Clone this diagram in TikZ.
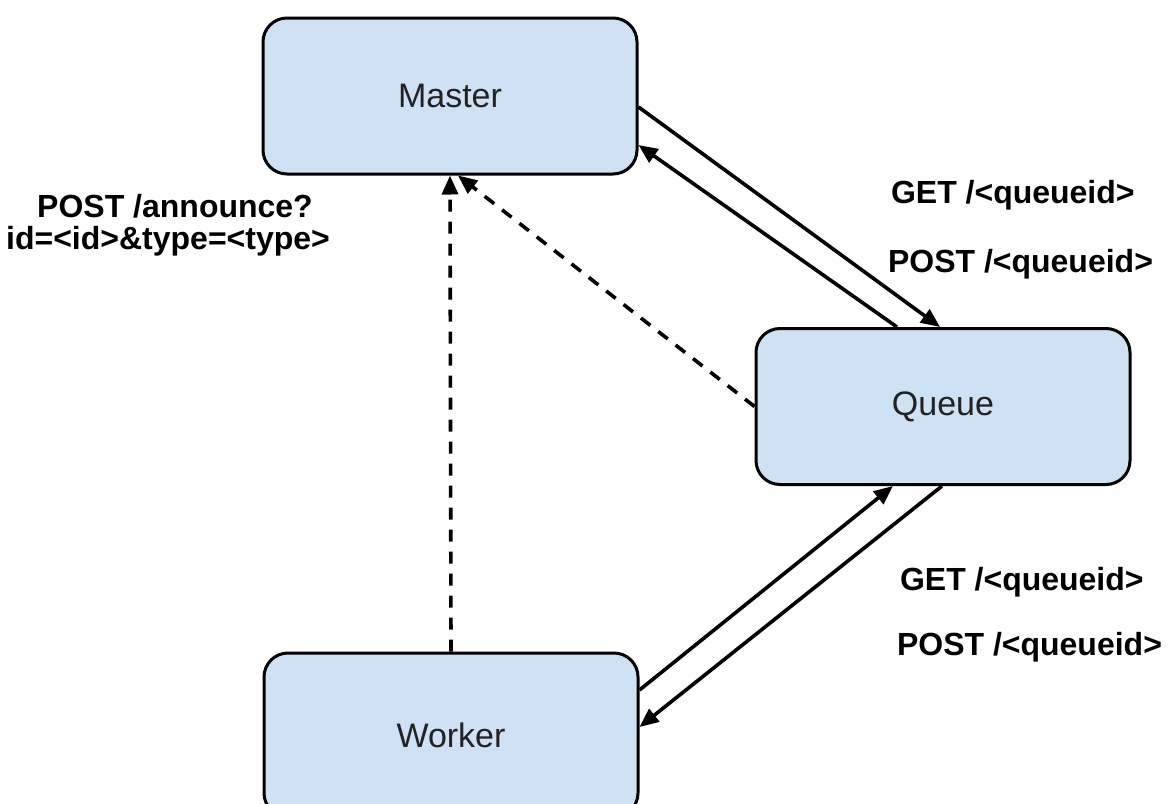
\documentclass[tikz,border=0pt]{standalone}
\usepackage{fontspec}
\setmainfont{Liberation Sans}
\usetikzlibrary{arrows.meta}

\begin{document}
\begin{tikzpicture}[x=0.5pt,y=-0.5pt,
  box/.style={draw=drawColor,fill=fillColor,text=textColor,line width=1.5pt,
    rounded corners=12pt,minimum width=187pt,minimum height=78pt,inner sep=0pt,
    font=\fontsize{17}{20}\selectfont},
  call/.style={draw=drawColor,line width=1.8pt,-{Triangle[length=9.5pt,width=8pt]}},
  announce/.style={call,dash pattern=on 6pt off 5pt},
  lbl/.style={text=drawColor,inner sep=0pt,outer sep=0pt,
    font=\fontsize{16}{16}\selectfont\bfseries}]
\definecolor{fillColor}{RGB}{207,226,243}
\definecolor{drawColor}{RGB}{0,0,0}
\definecolor{textColor}{RGB}{34,34,34}
\path[use as bounding box] (0,0) rectangle (1172,803);

% the three services
\node[box] (master) at (450, 96) {Master};
\node[box] (queue) at (943,406.5) {Queue};
\node[box,minimum height=82pt] (worker) at (451,735) {Worker};

% master <-> queue
\draw[call] ([yshift=-5.5pt]master.east) -- ([xshift=-1.5pt]queue.north);
\draw[call] ([xshift=-23pt]queue.north) -- ([yshift=-24.5pt]master.east);

% worker <-> queue
\draw[call] ([yshift=22.5pt]worker.east) -- ([xshift=-25pt]queue.south);
\draw[call] ([xshift=-0.5pt]queue.south) -- ([yshift=4pt]worker.east);

% announcements
\draw[announce] (worker.north) -- (master.south);
\draw[announce] (queue.west) -- ([xshift=4pt]master.south);

\node[lbl,anchor=base] (announce1) at (175,217) {POST /announce?};
\node[lbl,anchor=base] (announce2) at (168,249) {id=<id>\&type=<type>};

\node[lbl,anchor=base west] (getq) at (891,203) {GET /<queueid>};
\node[lbl,anchor=base west] (postq) at (888,272) {POST /<queueid>};
\node[lbl,anchor=base west] (getw) at (900,590) {GET /<queueid>};
\node[lbl,anchor=base west] (postw) at (897,655) {POST /<queueid>};
\end{tikzpicture}
\end{document}
